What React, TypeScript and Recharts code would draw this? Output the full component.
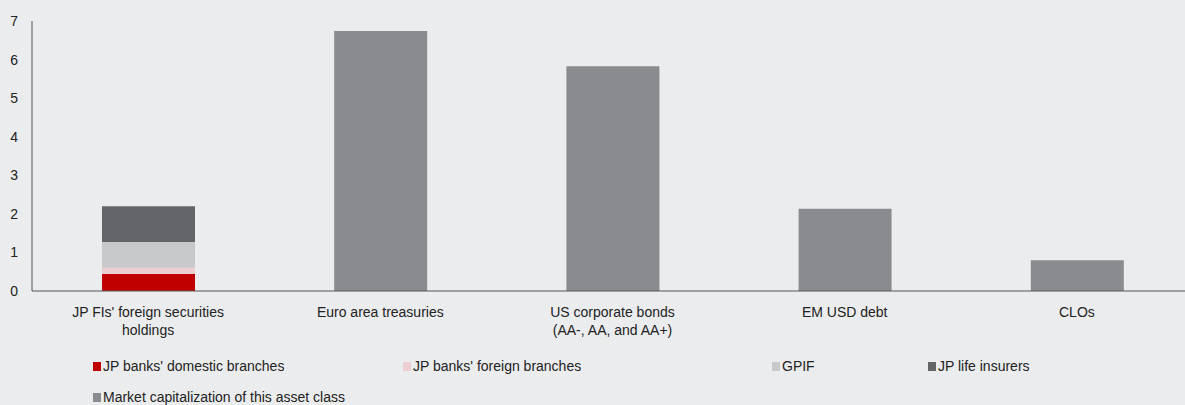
import React from "react";
import { BarChart, Bar, XAxis, YAxis, Legend } from "recharts";

const categories = [
  "JP FIs' foreign securities holdings",
  "Euro area treasuries",
  "US corporate bonds (AA-, AA, and AA+)",
  "EM USD debt",
  "CLOs",
];
const categoryLines: string[][] = [
  ["JP FIs' foreign securities", "holdings"],
  ["Euro area treasuries"],
  ["US corporate bonds", "(AA-, AA, and AA+)"],
  ["EM USD debt"],
  ["CLOs"],
];
const jpBanksDomestic = [0.44, null, null, null, null];
const jpBanksForeign = [0.16, null, null, null, null];
const gpif = [0.67, null, null, null, null];
const jpLifeInsurers = [0.93, null, null, null, null];
const marketCap = [null, 6.74, 5.83, 2.13, 0.8];
const yTicks = [0, 1, 2, 3, 4, 5, 6, 7];

const seriesNames = [
  "JP banks' domestic branches",
  "JP banks' foreign branches",
  "GPIF",
  "JP life insurers",
  "Market capitalization of this asset class",
];
const seriesColors = ["#C00000", "#EECFD1", "#C8C9CB", "#636468", "#8A8B8F"];

const data = categories.map((c, i) => ({
  category: c,
  s0: jpBanksDomestic[i],
  s1: jpBanksForeign[i],
  s2: gpif[i],
  s3: jpLifeInsurers[i],
  s4: marketCap[i],
}));

const FONT = "'Liberation Sans', Arial, sans-serif";

const XTick = (props: any) => {
  const { x, y, payload } = props;
  const idx = categories.indexOf(payload.value);
  const lines = idx >= 0 ? categoryLines[idx] : [String(payload.value)];
  return (
    <g transform={`translate(${x},${y})`}>
      {lines.map((l, i) => (
        <text
          key={i}
          x={0}
          y={0}
          dy={18 + i * 18}
          textAnchor="middle"
          fill="#222"
          fontSize={14}
          fontFamily={FONT}
        >
          {l}
        </text>
      ))}
    </g>
  );
};

const legendPos = [
  { left: 93, top: 17 },
  { left: 403, top: 17 },
  { left: 772, top: 17 },
  { left: 928, top: 17 },
  { left: 93, top: 48 },
];

const LegendContent = () => (
  <div style={{ position: "relative", height: 64, width: 1185 }}>
    {seriesNames.map((n, i) => (
      <div
        key={n}
        style={{
          position: "absolute",
          left: legendPos[i].left,
          top: legendPos[i].top,
          display: "flex",
          alignItems: "center",
          fontSize: 14,
          fontFamily: FONT,
          color: "#222",
          whiteSpace: "nowrap",
          lineHeight: "16px",
        }}
      >
        <span
          style={{
            display: "inline-block",
            width: 8,
            height: 9,
            background: seriesColors[i],
            marginRight: 2,
          }}
        />
        {n}
      </div>
    ))}
  </div>
);

export default function App() {
  return (
    <div
      style={{
        position: "fixed",
        left: 0,
        top: 0,
        width: 1185,
        height: 405,
        overflow: "hidden",
        background: "#EBECEE",
      }}
    >
      <BarChart
        width={1193}
        height={405}
        data={data}
        margin={{ top: 21, right: 0, bottom: 0, left: 0 }}
        barSize={93}
      >
        <XAxis
          dataKey="category"
          tick={<XTick />}
          tickLine={false}
          axisLine={{ stroke: "#555", strokeWidth: 1 }}
          height={50}
          interval={0}
        />
        <YAxis
          domain={[0, 7]}
          ticks={yTicks}
          width={32}
          tickLine={false}
          axisLine={{ stroke: "#555", strokeWidth: 1 }}
          tick={{ fill: "#222", fontSize: 14, fontFamily: FONT }}
          tickMargin={8}
          interval={0}
        />
        <Legend verticalAlign="bottom" content={<LegendContent />} wrapperStyle={{ left: 0, width: 1185 }} />
        {["s0", "s1", "s2", "s3", "s4"].map((k, i) => (
          <Bar
            key={k}
            dataKey={k}
            stackId="a"
            name={seriesNames[i]}
            fill={seriesColors[i]}
            isAnimationActive={false}
          />
        ))}
      </BarChart>
    </div>
  );
}
